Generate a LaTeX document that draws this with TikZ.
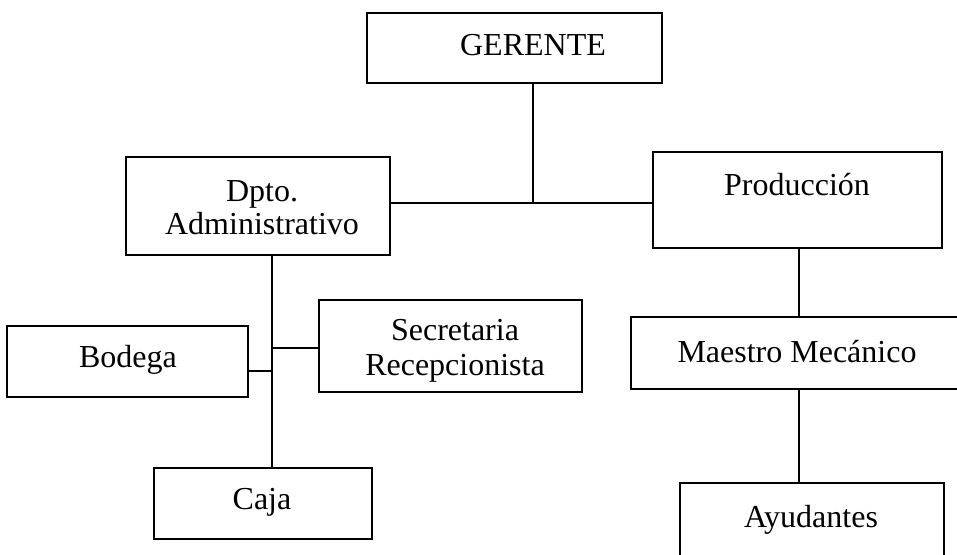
\documentclass[tikz,border=0pt]{standalone}
\usepackage{fontspec}
\setmainfont{Liberation Serif}
\begin{document}
\begin{tikzpicture}[x=1pt,y=-1pt,
  orgbox/.style={draw, line width=2.2pt, inner sep=0pt},
  lbl/.style={inner sep=0pt, align=center, font=\fontsize{32}{33}\selectfont},
  link/.style={line width=2.2pt}]
\path[use as bounding box] (0,0) rectangle (957,554);
\clip (0,0) rectangle (957,554);

% boxes
\node[orgbox, minimum width=295, minimum height=70] (ger)  at (514.5,48)  {};
\node[orgbox, minimum width=264, minimum height=98] (dpto) at (258,206)   {};
\node[orgbox, minimum width=289, minimum height=96] (prod) at (797.5,200) {};
\node[orgbox, minimum width=241, minimum height=71] (bod)  at (127.5,361.5) {};
\node[orgbox, minimum width=263, minimum height=92] (sec)  at (450.5,346) {};
\node[orgbox, minimum width=218, minimum height=71] (caja) at (263,503.5) {};
\node[orgbox, minimum width=334, minimum height=72] (mae)  at (798,353)   {};
\node[orgbox, minimum width=264, minimum height=107] (ayu) at (812,536.5) {};

% labels
\node[lbl] (ger-t)  at (533,45)  {GERENTE};
\node[lbl] (dpto-t) at (262,208) {Dpto.\\Administrativo};
\node[lbl, font=\fontsize{32}{35}\selectfont] (sec-t) at (455,351) {Secretaria\\Recepcionista};
\node[lbl] (prod-t) at (797,185) {Producción};
\node[lbl] (bod-t)  at (128,360) {Bodega};
\node[lbl] (caja-t) at (262,502) {Caja};
\node[lbl] (mae-t)  at (797,352) {Maestro Mecánico};
\node[lbl] (ayu-t)  at (811,520) {Ayudantes};

% junction points
\coordinate (j)  at (533,203);
\coordinate (dv) at (272,0);
\coordinate (bj) at (272,371);
\coordinate (sj) at (272,348);
\coordinate (mv) at (799,0);

% connectors
\draw[link] (ger.south -| j) -- (j);
\draw[link] (dpto.east |- j) -- (prod.west |- j);
\draw[link] (dpto.south -| dv) -- (caja.north -| dv);
\draw[link] (bod.east |- bj) -- (bj);
\draw[link] (sj) -- (sec.west |- sj);
\draw[link] (prod.south -| mv) -- (mae.north -| mv);
\draw[link] (mae.south -| mv) -- (ayu.north -| mv);
\end{tikzpicture}
\end{document}
